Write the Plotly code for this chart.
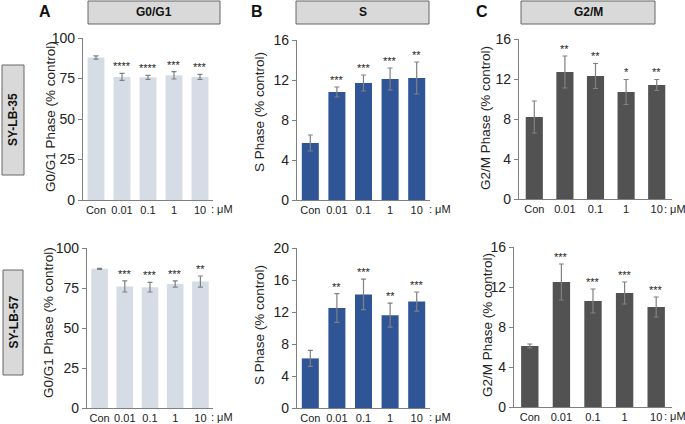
import plotly.graph_objects as go

categories = ["Con", "0.01", "0.1", "1", "10"]

# SY-LB-35 (top row)
g0g1_35 = [88, 76, 75.7, 77, 76]
g0g1_35_err = [1.0, 2.2, 1.2, 2.3, 1.5]
g0g1_35_sig = ["", "****", "****", "***", "***"]

s_35 = [5.7, 10.8, 11.7, 12.1, 12.2]
s_35_err = [0.8, 0.5, 0.8, 1.1, 1.6]
s_35_sig = ["", "***", "***", "***", "**"]

g2m_35 = [8.2, 12.7, 12.3, 10.7, 11.4]
g2m_35_err = [1.6, 1.6, 1.25, 1.25, 0.55]
g2m_35_sig = ["", "**", "**", "*", "**"]

# SY-LB-57 (bottom row)
g0g1_57 = [87, 76, 75.5, 77.5, 79]
g0g1_57_err = [0.3, 3.5, 3.0, 2.0, 3.5]
g0g1_57_sig = ["", "***", "***", "***", "**"]

s_57 = [6.2, 12.5, 14.2, 11.6, 13.3]
s_57_err = [1.0, 1.8, 1.9, 1.5, 1.2]
s_57_sig = ["", "**", "***", "**", "***"]

g2m_57 = [6.1, 12.5, 10.6, 11.4, 10.0]
g2m_57_err = [0.2, 1.8, 1.2, 1.1, 1.0]
g2m_57_sig = ["", "***", "***", "***", "***"]

W, H = 685, 424
FONT = "Arial, Liberation Sans, sans-serif"


def fx(p):
    return p / W


def fy(p):
    return 1 - p / H


panels = [
    dict(v=g0g1_35, e=g0g1_35_err, s=g0g1_35_sig, c="#d6dce5", ymax=100, dt=25,
         xd=(83, 213), yd=(38, 200), bw=0.65, title="G0/G1 Phase (% control)", tp=(51, 117), mu=(222, 209)),
    dict(v=s_35, e=s_35_err, s=s_35_sig, c="#2f5597", ymax=16, dt=4,
         xd=(297, 430), yd=(40, 200), bw=0.64, title="S Phase (% control)", tp=(260, 112), mu=(440, 209)),
    dict(v=g2m_35, e=g2m_35_err, s=g2m_35_sig, c="#525252", ymax=16, dt=4,
         xd=(519, 672), yd=(39, 199), bw=0.56, title="G2/M Phase (% control)", tp=(485, 118), mu=(675, 209)),
    dict(v=g0g1_57, e=g0g1_57_err, s=g0g1_57_sig, c="#d6dce5", ymax=100, dt=25,
         xd=(87, 213), yd=(248, 408), bw=0.66, title="G0/G1 Phase (% control)", tp=(48, 323), mu=(222, 417)),
    dict(v=s_57, e=s_57_err, s=s_57_sig, c="#2f5597", ymax=20, dt=4,
         xd=(297, 430), yd=(248, 408), bw=0.64, title="S Phase (% control)", tp=(259, 325), mu=(440, 417)),
    dict(v=g2m_57, e=g2m_57_err, s=g2m_57_sig, c="#525252", ymax=16, dt=4,
         xd=(514, 672), yd=(247, 407), bw=0.55, title="G2/M Phase (% control)", tp=(487, 325), mu=(675, 416)),
]

fig = go.Figure()
annotations = []
shapes = []
layout = dict(
    width=W, height=H, margin=dict(l=0, r=0, t=0, b=0, autoexpand=False), autosize=False,
    paper_bgcolor="white", plot_bgcolor="white", showlegend=False,
    font=dict(family=FONT, color="#222"),
)


def paper_text(x, y, text, size, angle=0, color="#222"):
    annotations.append(dict(
        x=fx(x), y=fy(y), xref="paper", yref="paper", text=text, textangle=angle,
        showarrow=False, xanchor="center", yanchor="middle",
        font=dict(size=size, color=color, family=FONT),
    ))


for i, p in enumerate(panels):
    n = i + 1
    xa = "x" if n == 1 else f"x{n}"
    ya = "y" if n == 1 else f"y{n}"
    idx = list(range(len(categories)))
    fig.add_trace(go.Bar(
        x=idx, y=p["v"], xaxis=xa, yaxis=ya, width=p["bw"],
        marker=dict(color=p["c"], line=dict(width=0)),
        error_y=dict(type="data", array=p["e"], visible=True,
                     color="#808080", thickness=1.2, width=2.5),
        hoverinfo="skip",
    ))
    layout[f"xaxis{n}"] = dict(
        domain=[fx(p["xd"][0]), fx(p["xd"][1])], anchor=ya, automargin=False,
        range=[-0.5, 4.5], tickmode="array", tickvals=idx, ticktext=categories,
        showline=True, linecolor="#7f7f7f",
        linewidth=1.2, ticks="", showgrid=False, zeroline=False,
        tickfont=dict(size=11, color="#222", family=FONT), fixedrange=True,
    )
    layout[f"yaxis{n}"] = dict(
        domain=[fy(p["yd"][1]), fy(p["yd"][0])], anchor=xa, automargin=False,
        range=[0, p["ymax"]], dtick=p["dt"], tick0=0, showline=True,
        linecolor="#7f7f7f", linewidth=1.2, ticks="outside", ticklen=4,
        tickcolor="#7f7f7f", showgrid=False, zeroline=False,
        tickfont=dict(size=14, color="#222", family=FONT), fixedrange=True,
    )
    for j, (v, e, s) in enumerate(zip(p["v"], p["e"], p["s"])):
        if s:
            annotations.append(dict(
                x=j, y=v + e, xref=xa, yref=ya, text=s, showarrow=False,
                xanchor="center", yanchor="bottom", yshift=-1,
                font=dict(size=11, color="#222", family=FONT),
            ))
    paper_text(p["tp"][0], p["tp"][1], p["title"], 13.5, angle=-90)
    paper_text(p["mu"][0], p["mu"][1], ": μM", 11)

headers = [("G0/G1", 88, 220), ("S", 296, 429), ("G2/M", 521, 655)]
for txt, x0, x1 in headers:
    shapes.append(dict(type="rect", xref="paper", yref="paper",
                       x0=fx(x0), x1=fx(x1), y0=fy(24), y1=fy(1),
                       fillcolor="#d9d9d9", line=dict(color="#666", width=1)))
    paper_text((x0 + x1) / 2, 12.5, f"<b>{txt}</b>", 12, color="#111")

for txt, x in [("A", 45), ("B", 257), ("C", 482)]:
    paper_text(x, 12, f"<b>{txt}</b>", 16, color="#111")

rows = [("SY-LB-35", 2, 24, 65, 175), ("SY-LB-57", 3, 23, 270, 375)]
for txt, x0, x1, y0, y1 in rows:
    shapes.append(dict(type="rect", xref="paper", yref="paper",
                       x0=fx(x0), x1=fx(x1), y0=fy(y1), y1=fy(y0),
                       fillcolor="#d9d9d9", line=dict(color="#666", width=1)))
    paper_text((x0 + x1) / 2, (y0 + y1) / 2, f"<b>{txt}</b>", 12, angle=-90, color="#111")

layout["annotations"] = annotations
layout["shapes"] = shapes
fig.update_layout(**layout)

post = (
    "document.documentElement.style.margin='0';"
    "document.documentElement.style.overflow='hidden';"
    "document.body.style.margin='0';"
    "document.body.style.padding='0';"
    "document.body.style.overflow='hidden';"
    "var d=document.getElementsByClassName('plotly-graph-div')[0];"
    "if(d){d.style.position='fixed';d.style.top='0px';d.style.left='0px';}"
)
fig.write_html("out.html", config={"displayModeBar": False}, post_script=post)
